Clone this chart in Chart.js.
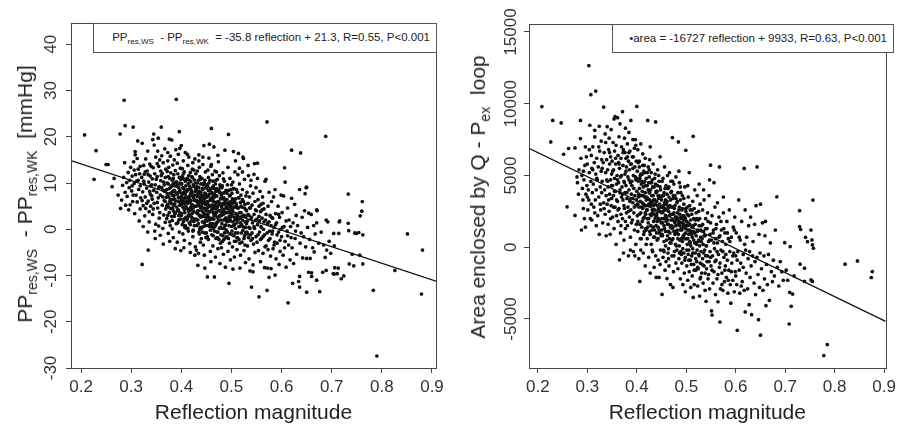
<!DOCTYPE html>
<html><head><meta charset="utf-8">
<script src="https://cdn.jsdelivr.net/npm/chart.js@4.4.1/dist/chart.umd.min.js"></script>
<style>
body{margin:0;background:#fff;}
#wrap{position:relative;width:900px;height:427px;font-family:"Liberation Sans",Arial,sans-serif;color:#222;overflow:hidden;}
canvas{position:absolute;top:0;}
.eq{position:absolute;border:1px solid #555;background:#fff;font-size:11.5px;text-align:right;box-sizing:border-box;white-space:nowrap;line-height:27px;padding-right:6px;}
.eq sub{font-size:8px;vertical-align:-3px;line-height:0;}
.ytitle{position:absolute;font-size:21px;white-space:nowrap;transform:translate(-50%,-50%) rotate(-90deg);}
.ytitle sub{font-size:14px;vertical-align:-5px;line-height:0;}
</style></head>
<body><div id="wrap">
<canvas id="c1" width="450" height="427" style="left:0"></canvas>
<canvas id="c2" width="450" height="427" style="left:450px"></canvas>
<div class="ytitle" style="left:25px;top:194px">PP<sub>res,WS</sub>&nbsp; - PP<sub>res,WK</sub>&nbsp; [mmHg]</div>
<div class="ytitle" style="left:478px;top:197px">Area enclosed by Q - P<sub>ex</sub>&nbsp; loop</div>
<div class="eq" style="left:93px;top:23px;width:344px;height:30px">PP<sub>res,WS</sub>&nbsp; - PP<sub>res,WK</sub>&nbsp; = -35.8 reflection + 21.3, R=0.55, P&lt;0.001</div>
<div class="eq" style="left:612px;top:24px;width:282px;height:29px">&#8226;area = -16727 reflection + 9933, R=0.63, P&lt;0.001</div>
</div>
<script>
// ---- data (reflection magnitude, value) ----
const ppPoints = [
[0.207,20.4],[0.226,10.8],[0.230,17.0],[0.250,14.0],[0.254,14.0],[0.262,9.2],[0.266,11.0],[0.274,7.4],[0.278,20.6],[0.279,4.5],
[0.281,6.3],[0.283,9.5],[0.286,27.9],[0.287,14.4],[0.288,22.4],[0.289,5.2],[0.285,11.2],[0.288,8.0],
[0.291,10.1],[0.292,7.1],[0.294,12.3],[0.295,4.2],[0.296,9.0],[0.298,5.3],[0.299,13.4],[0.297,10.6],
[0.301,8.3],[0.302,11.5],[0.303,6.0],[0.304,22.1],[0.305,14.6],[0.306,9.9],[0.307,3.4],[0.308,16.8],[0.308,16.1],[0.309,11.8],[0.304,7.4],
[0.311,10.4],[0.312,5.9],[0.313,19.1],[0.314,13.0],[0.315,8.6],[0.316,1.8],[0.317,12.0],[0.318,9.4],[0.319,6.8],[0.312,15.3],[0.318,4.4],
[0.321,11.2],[0.322,-7.6],[0.322,18.6],[0.323,8.1],[0.324,5.1],[0.325,13.8],[0.326,9.8],[0.327,2.9],[0.328,7.0],[0.329,15.2],[0.326,11.9],[0.324,0.6],[0.329,4.5],
[0.331,8.9],[0.332,12.6],[0.333,-0.6],[0.334,-4.5],[0.334,6.1],[0.335,10.2],[0.336,3.8],[0.337,14.1],[0.338,7.6],[0.339,9.4],[0.333,16.9],[0.336,1.6],[0.338,11.5],[0.339,5.0],
[0.341,7.2],[0.342,10.9],[0.343,19.4],[0.343,3.2],[0.344,13.3],[0.345,20.6],[0.345,8.4],[0.346,18.2],[0.346,5.6],[0.347,12.0],[0.348,-2.0],[0.348,9.6],[0.349,1.1],[0.349,15.6],[0.342,6.5],[0.347,-0.4],
[0.351,8.0],[0.352,11.4],[0.353,4.6],[0.354,19.7],[0.354,6.8],[0.355,13.6],[0.356,9.2],[0.356,2.4],[0.357,15.0],[0.358,7.4],[0.358,-1.3],[0.359,10.5],[0.352,5.8],[0.357,3.6],[0.359,12.6],[0.353,16.9],[0.355,0.7],
[0.360,22.1],[0.361,9.0],[0.362,5.2],[0.362,12.1],[0.363,7.0],[0.364,-3.2],[0.364,14.4],[0.365,3.1],[0.365,10.2],[0.366,6.2],[0.367,8.2],[0.367,17.4],[0.368,1.5],[0.368,11.2],[0.369,4.4],[0.369,13.0],[0.361,15.9],[0.363,0.2],[0.366,9.6],[0.370,6.9],
[0.371,8.6],[0.371,2.3],[0.372,12.5],[0.373,5.4],[0.373,14.8],[0.374,9.8],[0.374,-0.9],[0.375,7.0],[0.376,19.5],[0.376,3.6],[0.377,11.0],[0.377,6.0],[0.378,15.8],[0.378,0.8],[0.379,9.1],[0.379,4.5],[0.372,10.0],[0.375,13.4],[0.377,-2.6],[0.379,7.8],[0.373,16.6],
[0.381,19.3],[0.381,6.4],[0.382,10.6],[0.382,1.9],[0.383,8.2],[0.383,13.9],[0.384,4.0],[0.384,-1.8],[0.385,11.8],[0.385,7.2],[0.386,15.0],[0.386,2.8],[0.387,9.4],[0.387,5.5],[0.388,12.7],[0.388,-4.2],[0.389,8.0],[0.389,17.2],[0.390,28.1],[0.382,0.1],[0.384,9.9],[0.386,6.6],[0.388,3.5],
[0.391,10.2],[0.391,4.8],[0.392,14.3],[0.392,7.6],[0.393,1.4],[0.393,12.0],[0.394,6.0],[0.394,16.2],[0.395,9.0],[0.395,3.0],[0.396,21.1],[0.396,11.2],[0.396,-0.6],[0.397,5.2],[0.397,8.4],[0.398,13.2],[0.398,2.2],[0.399,6.8],[0.399,10.8],[0.392,-2.8],[0.394,4.2],[0.397,17.5],[0.399,-4.6],[0.393,9.6],
[0.400,18.1],[0.401,7.3],[0.401,3.4],[0.402,11.4],[0.402,5.5],[0.403,-1.0],[0.403,9.0],[0.404,14.8],[0.404,1.6],[0.405,-4.0],[0.405,6.4],[0.406,12.4],[0.406,4.2],[0.407,8.2],[0.407,0.4],[0.408,10.4],[0.408,16.6],[0.409,5.0],[0.409,2.6],[0.400,9.8],[0.402,13.1],[0.404,7.8],[0.406,-2.4],[0.408,6.9],[0.405,10.9],
[0.411,6.0],[0.411,10.8],[0.412,2.3],[0.412,8.6],[0.413,13.8],[0.413,4.4],[0.414,-0.4],[0.414,7.0],[0.415,11.6],[0.415,15.6],[0.416,3.2],[0.416,9.4],[0.417,5.8],[0.417,-3.1],[0.418,12.3],[0.418,1.0],[0.419,7.8],[0.419,4.8],[0.410,0.2],[0.412,16.2],[0.414,9.9],[0.416,6.5],[0.418,-5.0],[0.419,10.3],[0.415,3.9],
[0.421,8.0],[0.421,2.6],[0.422,11.2],[0.422,5.2],[0.423,14.4],[0.423,-1.6],[0.424,6.8],[0.424,9.6],[0.425,3.8],[0.425,12.8],[0.426,0.8],[0.426,7.4],[0.427,15.2],[0.427,5.0],[0.428,10.0],[0.428,-3.8],[0.429,2.0],[0.429,8.8],[0.420,4.2],[0.422,13.0],[0.424,-0.2],[0.426,10.7],[0.428,6.2],[0.429,12.0],[0.425,1.7],[0.427,-5.6],
[0.430,-4.5],[0.431,6.2],[0.431,9.2],[0.432,3.4],[0.432,12.6],[0.433,-7.8],[0.433,7.6],[0.434,1.2],[0.434,10.6],[0.435,5.2],[0.435,14.8],[0.436,-1.0],[0.436,8.2],[0.437,3.0],[0.437,11.4],[0.438,6.6],[0.438,-2.8],[0.439,4.6],[0.439,9.8],[0.430,2.2],[0.432,7.1],[0.434,-5.2],[0.436,13.4],[0.438,0.4],[0.439,6.0],[0.433,4.0],[0.435,16.1],
[0.440,7.4],[0.441,2.8],[0.441,11.0],[0.442,5.6],[0.442,-0.6],[0.443,8.6],[0.443,14.0],[0.444,3.6],[0.444,-3.4],[0.445,18.1],[0.445,6.4],[0.446,10.0],[0.446,1.4],[0.447,-8.4],[0.447,7.8],[0.448,4.4],[0.448,12.4],[0.449,-1.8],[0.449,9.0],[0.440,0.2],[0.442,9.9],[0.444,6.2],[0.446,-5.6],[0.448,2.0],[0.449,5.3],[0.443,15.6],[0.445,3.0],
[0.450,5.8],[0.451,9.6],[0.451,1.8],[0.452,-10.3],[0.452,7.0],[0.453,12.8],[0.453,3.2],[0.454,-2.2],[0.454,8.4],[0.455,5.0],[0.455,15.4],[0.456,18.4],[0.456,0.6],[0.457,10.6],[0.457,6.2],[0.458,-4.8],[0.458,3.8],[0.459,8.8],[0.459,13.6],[0.450,-0.8],[0.452,4.6],[0.454,11.2],[0.456,7.6],[0.458,1.2],[0.459,-7.0],[0.453,9.2],[0.455,2.6],
[0.460,21.8],[0.460,4.2],[0.461,8.0],[0.461,-1.2],[0.462,11.8],[0.462,2.4],[0.463,6.4],[0.463,-3.6],[0.464,9.4],[0.464,0.2],[0.465,17.8],[0.465,5.0],[0.466,-10.3],[0.466,7.6],[0.467,12.6],[0.467,3.0],[0.468,-6.0],[0.468,9.8],[0.469,1.0],[0.469,5.8],[0.460,14.0],[0.462,6.9],[0.464,3.6],[0.466,-0.4],[0.468,4.4],[0.469,8.2],[0.463,10.4],
[0.470,3.6],[0.471,7.2],[0.471,-0.6],[0.472,10.8],[0.472,4.8],[0.473,-4.2],[0.473,1.6],[0.474,8.6],[0.474,14.6],[0.475,6.0],[0.475,-2.2],[0.476,2.8],[0.476,11.6],[0.477,-7.4],[0.477,5.4],[0.478,9.2],[0.478,0.4],[0.479,3.8],[0.479,7.8],[0.470,12.4],[0.472,-1.8],[0.474,5.7],[0.476,8.0],[0.478,-3.0],[0.479,2.0],[0.473,16.0],
[0.480,5.0],[0.481,1.2],[0.481,9.0],[0.482,-2.6],[0.482,6.6],[0.483,12.2],[0.483,3.2],[0.484,-5.4],[0.484,7.8],[0.485,0.2],[0.485,4.2],[0.486,10.4],[0.486,-0.8],[0.487,17.1],[0.487,6.2],[0.488,2.4],[0.488,-8.2],[0.489,8.4],[0.489,4.6],[0.480,-4.0],[0.482,3.7],[0.484,10.9],[0.486,5.4],[0.488,0.9],[0.483,-1.4],
[0.490,2.4],[0.491,6.4],[0.491,-1.6],[0.492,9.6],[0.492,3.6],[0.493,-4.8],[0.493,13.4],[0.494,20.5],[0.494,5.2],[0.495,-11.7],[0.495,0.8],[0.496,7.2],[0.496,-3.0],[0.497,4.0],[0.497,11.0],[0.498,1.8],[0.498,-6.6],[0.499,6.0],[0.499,8.6],[0.490,-0.2],[0.492,5.6],[0.494,-2.0],[0.496,2.8],[0.498,4.8],
[0.500,3.0],[0.501,-0.4],[0.501,7.8],[0.502,4.4],[0.502,-3.8],[0.503,10.2],[0.503,1.6],[0.504,16.8],[0.504,5.8],[0.505,-1.4],[0.505,8.8],[0.506,2.6],[0.506,-6.0],[0.507,12.4],[0.507,4.8],[0.508,0.2],[0.508,6.6],[0.509,-2.6],[0.509,3.4],[0.500,9.6],[0.503,-8.6],[0.506,1.0],[0.508,14.8],
[0.510,5.2],[0.511,1.4],[0.511,-4.4],[0.512,8.0],[0.512,3.0],[0.513,-0.8],[0.513,11.8],[0.514,16.4],[0.514,4.6],[0.515,-2.2],[0.515,6.8],[0.516,0.6],[0.516,9.8],[0.517,-8.4],[0.517,2.4],[0.518,5.8],[0.518,-5.6],[0.519,3.6],[0.519,7.4],[0.512,-1.8],[0.516,13.2],
[0.520,1.0],[0.521,4.8],[0.521,-2.8],[0.522,8.6],[0.522,2.0],[0.523,-0.2],[0.523,15.6],[0.524,15.3],[0.524,6.0],[0.525,-4.6],[0.525,3.0],[0.526,10.8],[0.526,-1.4],[0.527,5.4],[0.528,0.4],[0.528,-7.2],[0.529,7.2],[0.529,2.8],[0.522,12.4],[0.527,-3.4],
[0.530,4.0],[0.531,-0.6],[0.531,8.0],[0.532,1.8],[0.532,-3.6],[0.533,5.6],[0.534,11.6],[0.534,-1.8],[0.535,3.0],[0.535,-6.4],[0.536,7.0],[0.537,0.2],[0.537,-9.0],[0.538,4.6],[0.538,9.4],[0.539,-2.4],[0.539,2.2],[0.533,13.8],
[0.539,10.6],[0.540,-12.5],[0.541,-0.8],[0.541,5.2],[0.542,1.4],[0.543,-7.7],[0.543,-9.2],[0.543,7.8],[0.544,-3.2],[0.545,11.9],[0.545,3.2],[0.546,0.2],[0.547,-5.0],[0.547,6.0],[0.548,2.0],[0.549,-1.6],[0.549,9.0],[0.546,14.2],
[0.550,4.0],[0.551,-2.8],[0.552,14.3],[0.552,11.0],[0.552,1.0],[0.553,6.4],[0.554,-4.6],[0.555,-14.6],[0.555,2.8],[0.556,-0.6],[0.557,8.2],[0.558,-7.0],[0.558,3.8],[0.559,0.6],[0.559,5.4],
[0.560,-2.0],[0.561,2.4],[0.562,7.0],[0.563,-5.2],[0.564,0.0],[0.565,4.4],[0.566,-8.3],[0.566,-1.2],[0.567,10.4],[0.568,2.0],[0.569,10.8],[0.569,-3.6],[0.563,5.6],
[0.571,23.2],[0.571,-13.2],[0.572,-8.4],[0.572,1.2],[0.573,5.0],[0.574,-2.4],[0.575,8.0],[0.576,-0.4],[0.577,3.0],[0.578,-5.8],[0.579,-8.5],[0.579,0.8],[0.575,-10.4],
[0.580,6.0],[0.581,-1.0],[0.582,2.4],[0.583,-4.2],[0.584,7.0],[0.585,0.4],[0.586,-2.8],[0.587,8.6],[0.587,-9.9],[0.588,3.4],[0.589,-6.4],
[0.590,1.4],[0.591,-3.0],[0.593,5.0],[0.594,-0.6],[0.595,-7.6],[0.596,2.6],[0.597,-4.8],[0.598,0.0],[0.599,7.4],
[0.600,-1.6],[0.601,3.6],[0.603,-5.6],[0.604,7.2],[0.605,0.6],[0.606,13.3],[0.607,10.2],[0.607,-2.6],[0.609,-8.2],[0.609,1.8],
[0.611,-0.4],[0.612,4.6],[0.613,-15.9],[0.614,-3.4],[0.615,2.0],[0.617,-6.6],[0.618,0.6],[0.619,-1.8],[0.620,17.1],[0.620,6.7],
[0.621,-4.0],[0.622,-11.7],[0.623,1.4],[0.624,-7.4],[0.626,5.4],[0.627,-2.0],[0.628,-0.4],[0.629,3.0],
[0.630,-5.4],[0.632,0.8],[0.634,-11.3],[0.636,8.6],[0.636,-10.2],[0.636,-12.5],[0.637,-3.0],[0.638,16.5],[0.639,-0.8],
[0.641,2.6],[0.642,-6.2],[0.644,-1.6],[0.646,4.0],[0.647,7.7],[0.648,-3.8],[0.649,9.0],[0.650,-13.6],[0.650,9.1],[0.650,-6.3],
[0.652,0.4],[0.654,3.5],[0.654,-9.3],[0.656,-2.2],[0.657,-6.3],[0.659,3.2],[0.660,-10.2],[0.660,-9.4],
[0.662,-4.0],[0.664,0.8],[0.665,-4.9],[0.667,-1.0],[0.670,4.2],[0.670,-11.0],[0.670,1.4],[0.671,4.0],
[0.674,-3.0],[0.676,-13.5],[0.679,-0.6],[0.682,-9.3],[0.684,-3.4],[0.687,-6.1],[0.688,20.1],[0.689,2.0],[0.689,-8.9],[0.690,-4.5],[0.692,1.6],[0.695,-2.6],[0.698,-5.2],
[0.703,-9.6],[0.704,-0.9],[0.705,-3.6],[0.706,-8.3],[0.705,-9.7],[0.711,-9.6],[0.713,-8.4],[0.714,-0.9],[0.715,1.6],[0.716,1.8],[0.719,-10.7],[0.724,-10.1],[0.733,7.6],[0.733,1.3],[0.734,-0.3],[0.735,-7.5],[0.741,-5.4],[0.744,-7.9],[0.746,-0.8],[0.749,-0.9],[0.754,-0.7],[0.756,-5.6],[0.757,2.9],[0.760,3.9],[0.761,6.0],[0.762,-1.2],[0.762,-7.5],[0.783,-13.2],[0.790,-27.4],[0.826,-8.9],[0.851,-1.0],[0.879,-14.0],[0.881,-4.5]
];
// densely packed core of the same cloud
const ppPointsCore = [
[0.302,9.4],[0.306,12.8],[0.310,7.4],[0.314,10.6],[0.318,13.6],[0.322,6.2],[0.325,10.4],[0.328,12.4],[0.331,5.6],[0.334,11.8],[0.337,8.2],[0.340,13.6],[0.341,9.6],[0.344,4.4],[0.350,10.8],[0.352,14.2],[0.355,9.0],[0.360,11.6],[0.364,8.4],[0.368,6.0],
[0.371,5.0],[0.372,7.6],[0.373,3.0],[0.374,11.4],[0.375,4.8],[0.376,8.8],[0.377,1.6],[0.378,6.4],[0.379,12.2],[0.380,5.6],[0.380,9.4],[0.381,2.8],[0.382,7.4],[0.383,4.6],[0.384,11.0],[0.385,5.2],[0.386,8.4],[0.387,3.4],[0.388,6.2],[0.389,10.2],[0.390,1.2],[0.391,7.8],[0.392,4.0],[0.393,9.2],[0.394,6.8],[0.395,2.0],[0.396,8.0],[0.397,3.6],[0.398,10.0],[0.399,5.6],
[0.400,6.2],[0.400,3.0],[0.401,9.8],[0.402,1.0],[0.402,7.8],[0.403,4.8],[0.404,12.0],[0.404,6.0],[0.405,2.2],[0.405,8.8],[0.406,5.6],[0.407,10.8],[0.407,3.6],[0.408,0.8],[0.408,7.6],[0.409,9.4],[0.410,4.6],[0.410,6.8],[0.411,2.0],[0.411,8.2],[0.412,11.0],[0.413,5.6],[0.413,0.2],[0.414,3.0],[0.414,8.6],[0.415,6.0],[0.416,1.4],[0.416,10.6],[0.417,4.2],[0.417,7.2],[0.418,2.8],[0.418,9.0],[0.419,6.2],[0.420,1.8],[0.420,8.4],[0.421,5.4],[0.421,11.4],[0.422,3.4],[0.423,7.2],[0.423,-0.4],[0.424,4.6],[0.425,9.2],[0.426,2.2],[0.427,6.4],[0.428,8.2],
[0.430,5.0],[0.430,8.4],[0.431,0.8],[0.431,3.6],[0.432,10.0],[0.433,5.8],[0.433,2.0],[0.434,7.8],[0.434,4.0],[0.435,-0.6],[0.435,9.0],[0.436,3.0],[0.436,6.0],[0.437,0.0],[0.437,7.0],[0.438,4.8],[0.438,10.8],[0.439,2.6],[0.439,8.0],[0.440,5.0],[0.440,-2.0],[0.441,7.0],[0.441,4.0],[0.442,1.6],[0.442,8.8],[0.443,5.8],[0.444,0.6],[0.444,9.6],[0.445,4.6],[0.445,7.2],[0.446,2.8],[0.446,5.6],[0.447,-0.8],[0.447,10.6],[0.448,6.8],[0.448,3.2],[0.449,0.8],[0.449,7.6],[0.450,4.0],[0.450,9.0],[0.451,2.6],[0.452,6.0],[0.452,-1.6],[0.453,5.4],[0.454,0.8],[0.454,7.2],[0.455,3.8],[0.455,10.0],[0.456,2.0],[0.457,5.0],[0.457,8.4],[0.458,-0.2],[0.459,6.6],[0.460,2.2],[0.461,5.2],[0.462,9.0],[0.463,1.2],[0.464,6.0],[0.465,3.2],[0.466,8.8],
[0.460,6.6],[0.461,0.6],[0.462,4.4],[0.463,7.6],[0.464,-1.4],[0.465,2.2],[0.466,5.2],[0.467,0.6],[0.467,7.0],[0.468,3.0],[0.469,10.6],[0.469,-2.0],[0.470,5.0],[0.470,1.4],[0.471,8.8],[0.472,2.6],[0.473,6.0],[0.473,-0.6],[0.474,4.0],[0.474,2.0],[0.475,8.4],[0.476,0.2],[0.476,5.4],[0.477,3.0],[0.477,9.6],[0.478,6.6],[0.479,-1.2],[0.480,3.0],[0.480,7.2],[0.481,4.6],[0.482,0.2],[0.482,9.4],[0.483,5.6],[0.484,2.0],[0.485,6.8],[0.485,-2.2],[0.486,3.4],[0.487,8.0],[0.487,0.8],[0.488,5.6],[0.489,2.0],[0.489,-1.8],[0.490,4.8],[0.491,7.8],[0.491,1.6],[0.492,-0.6],[0.493,4.4],[0.494,8.4],[0.494,1.8],[0.495,3.6],[0.496,5.8],[0.497,-1.0],[0.497,2.2],[0.498,7.4],[0.499,3.6],
[0.500,5.4],[0.500,0.6],[0.501,2.8],[0.502,6.6],[0.502,-1.2],[0.503,3.8],[0.504,0.8],[0.504,8.8],[0.505,4.8],[0.506,-2.6],[0.506,6.2],[0.507,2.0],[0.508,-0.8],[0.509,5.6],[0.510,2.4],[0.510,8.6],[0.511,-1.8],[0.512,4.6],[0.513,2.0],[0.514,6.8],[0.515,0.6],[0.516,3.6],[0.517,-3.0],[0.518,1.4],[0.519,5.0],[0.520,-0.8],[0.521,2.8],[0.522,6.4],[0.523,0.6],[0.524,3.0],[0.525,-2.0],[0.526,4.6],[0.527,1.6],[0.528,-0.8],[0.529,4.2],[0.530,1.2],[0.532,-1.0],[0.533,3.2],[0.535,0.4],[0.536,4.6],[0.538,-1.2],[0.540,2.6],[0.542,-2.0],[0.545,0.6],[0.548,4.2],
[0.551,2.2],[0.553,-1.2],[0.555,5.0],[0.556,1.8],[0.558,-2.2],[0.560,0.4],[0.561,4.2],[0.563,-1.6],[0.565,1.6],[0.567,-3.8],[0.569,3.2],[0.571,-0.8],[0.573,-4.4],[0.575,1.6],[0.577,-2.0],[0.580,2.6],[0.582,-0.4],[0.585,-3.4],[0.588,1.0],[0.591,-1.2],[0.594,3.2],[0.597,-2.4],[0.602,0.4],[0.606,-4.0],[0.612,-1.4]
];
const areaPoints = [
[0.208,9800],[0.226,7340],[0.230,8840],[0.247,8660],[0.252,6480],[0.259,2820],[0.262,6880],[0.275,2220],[0.275,6920],[0.279,4900],[0.280,4500],[0.283,5400],[0.286,8840],[0.286,7570],[0.288,1200],[0.289,5000],[0.290,4100],
[0.291,3300],[0.292,2700],[0.293,4700],[0.294,2000],[0.295,5700],[0.296,1400],[0.297,3700],[0.298,6300],[0.299,4300],
[0.300,5800],[0.301,2600],[0.302,4000],[0.303,12660],[0.303,3300],[0.304,5200],[0.305,8500],[0.306,2000],[0.307,10630],[0.307,4600],[0.308,6400],[0.309,1900],[0.309,5500],
[0.310,3800],[0.311,7000],[0.312,4400],[0.313,2800],[0.314,5900],[0.315,8150],[0.315,7690],[0.316,3300],[0.317,10880],[0.317,5100],[0.318,1500],[0.318,4000],[0.319,6200],
[0.320,4700],[0.321,2200],[0.322,5600],[0.323,3500],[0.324,8430],[0.324,900],[0.325,6700],[0.326,4200],[0.327,2600],[0.328,5300],[0.328,7400],[0.329,3800],[0.329,6100],
[0.330,4600],[0.331,1700],[0.332,5900],[0.333,9770],[0.333,3100],[0.334,6600],[0.335,4000],[0.336,2300],[0.336,7900],[0.337,5200],[0.338,800],[0.338,3600],[0.339,6100],[0.339,4700],
[0.340,8400],[0.340,3000],[0.341,5400],[0.342,1600],[0.342,4200],[0.343,6800],[0.344,2500],[0.344,7600],[0.345,3700],[0.345,5800],[0.346,900],[0.347,4700],[0.347,6300],[0.348,2900],[0.348,8200],[0.349,5100],[0.349,3400],
[0.350,6000],[0.351,2100],[0.351,4300],[0.352,7300],[0.353,3600],[0.353,5400],[0.354,8940],[0.354,1300],[0.355,4800],[0.355,6700],[0.356,2800],[0.357,5800],[0.357,3900],[0.358,7100],[0.358,200],[0.359,4400],[0.359,2200],[0.356,9100],
[0.360,5000],[0.361,9030],[0.361,3200],[0.362,6400],[0.362,1800],[0.363,4500],[0.364,7700],[0.364,2700],[0.365,-880],[0.365,5500],[0.366,3800],[0.366,8600],[0.367,1000],[0.367,4900],[0.368,6200],[0.368,2300],[0.369,3500],[0.369,7000],[0.363,5900],
[0.370,4200],[0.371,9450],[0.371,2000],[0.372,5700],[0.372,3300],[0.373,6800],[0.374,500],[0.374,4600],[0.375,7600],[0.375,2700],[0.376,5100],[0.376,3800],[0.377,8300],[0.377,1300],[0.378,6200],[0.378,4300],[0.379,2400],[0.379,5600],[0.373,-400],[0.376,6600],
[0.380,3400],[0.381,7200],[0.381,1500],[0.382,4900],[0.382,2800],[0.383,6000],[0.383,-600],[0.384,4000],[0.384,8000],[0.385,2100],[0.385,5400],[0.386,3300],[0.386,6700],[0.387,700],[0.387,4500],[0.388,8840],[0.388,2600],[0.389,5800],[0.389,3700],[0.384,6600],[0.387,-200],
[0.390,4300],[0.391,1900],[0.391,6300],[0.392,3100],[0.392,7500],[0.393,5000],[0.393,-300],[0.394,2400],[0.394,4100],[0.395,6900],[0.395,1200],[0.396,3600],[0.396,5600],[0.397,7500],[0.397,2900],[0.398,4700],[0.398,200],[0.399,3300],[0.399,6000],[0.392,5500],[0.396,-600],[0.398,7100],
[0.400,9815],[0.400,3900],[0.401,2200],[0.401,5300],[0.402,6800],[0.402,1100],[0.403,3500],[0.403,4600],[0.404,-800],[0.404,2800],[0.405,6000],[0.405,4100],[0.406,-2380],[0.406,1600],[0.407,5000],[0.407,3200],[0.408,7200],[0.408,2400],[0.409,4400],[0.409,600],[0.402,3000],[0.405,5600],[0.408,-200],
[0.410,3600],[0.411,1800],[0.411,5100],[0.412,2700],[0.412,6500],[0.413,-400],[0.413,4200],[0.414,3000],[0.414,900],[0.415,5700],[0.415,2100],[0.416,4600],[0.416,3500],[0.417,-1300],[0.417,6200],[0.418,1300],[0.418,2900],[0.419,4800],[0.419,200],[0.411,3900],[0.414,5300],[0.417,2400],[0.419,3300],
[0.420,2600],[0.421,4300],[0.421,600],[0.422,8840],[0.422,3400],[0.423,5600],[0.423,1700],[0.424,2900],[0.424,-700],[0.425,4900],[0.425,3800],[0.426,1100],[0.426,6100],[0.427,2300],[0.427,-1800],[0.428,4000],[0.428,3100],[0.429,200],[0.429,5200],[0.421,2000],[0.424,4500],[0.426,3300],[0.428,1500],[0.427,7000],
[0.430,3000],[0.431,1200],[0.431,4700],[0.432,2400],[0.432,-300],[0.433,3600],[0.433,5800],[0.434,1800],[0.434,2900],[0.435,-1400],[0.435,4200],[0.436,700],[0.436,3300],[0.437,5100],[0.437,2000],[0.438,8730],[0.438,-600],[0.439,3800],[0.439,1500],[0.430,4500],[0.432,3200],[0.434,700],[0.436,2600],[0.438,4400],[0.439,-2100],
[0.440,2200],[0.441,3900],[0.441,500],[0.442,2900],[0.442,5400],[0.443,1400],[0.443,-900],[0.444,3400],[0.444,2000],[0.445,4600],[0.445,-2100],[0.446,1000],[0.446,3000],[0.447,2500],[0.447,6300],[0.448,-200],[0.448,4000],[0.449,1700],[0.449,2800],[0.441,1800],[0.443,3600],[0.445,1200],[0.447,-1200],[0.449,3500],[0.444,5000],
[0.450,2400],[0.451,-3290],[0.451,900],[0.452,3600],[0.452,1700],[0.453,4800],[0.453,-700],[0.454,2900],[0.454,2000],[0.455,400],[0.455,3800],[0.456,1300],[0.456,5600],[0.457,-1600],[0.457,2600],[0.458,3300],[0.458,100],[0.459,1800],[0.459,4300],[0.450,1200],[0.452,2800],[0.454,-200],[0.456,3100],[0.458,2200],[0.459,-1000],
[0.460,2000],[0.461,-2180],[0.461,3200],[0.462,800],[0.462,1600],[0.463,4100],[0.463,-400],[0.464,2500],[0.464,1100],[0.465,3500],[0.465,-1300],[0.466,2200],[0.466,5200],[0.467,300],[0.467,2900],[0.468,1400],[0.468,-2600],[0.469,3800],[0.469,1900],[0.460,3000],[0.462,2600],[0.464,-800],[0.466,600],[0.468,2300],[0.469,4600],
[0.470,1500],[0.471,2800],[0.471,-600],[0.472,7640],[0.472,1900],[0.473,3400],[0.473,600],[0.474,2300],[0.474,-1700],[0.475,4400],[0.475,1100],[0.476,2700],[0.476,-300],[0.477,1700],[0.477,3600],[0.478,200],[0.478,2100],[0.479,-1100],[0.479,4900],[0.471,1300],[0.473,-2800],[0.475,2400],[0.477,900],[0.479,1500],
[0.480,1900],[0.481,-200],[0.481,3100],[0.482,1200],[0.482,2400],[0.483,-1500],[0.483,3800],[0.484,7340],[0.484,900],[0.485,1800],[0.485,-800],[0.486,2800],[0.486,4500],[0.487,500],[0.487,1500],[0.488,-2200],[0.488,3300],[0.489,2100],[0.489,-300],[0.481,1000],[0.483,2000],[0.486,100],[0.488,1200],[0.485,5300],
[0.490,1300],[0.491,2600],[0.491,-1100],[0.492,400],[0.492,3600],[0.493,1700],[0.493,-2600],[0.494,2200],[0.494,800],[0.495,-400],[0.495,3000],[0.496,1400],[0.496,-1800],[0.497,4200],[0.497,600],[0.498,2000],[0.498,-3100],[0.499,6760],[0.499,1000],[0.490,-500],[0.493,700],[0.495,1900],[0.497,-900],[0.499,2700],
[0.500,600],[0.501,1800],[0.501,-1300],[0.502,2800],[0.502,200],[0.503,1200],[0.503,-2300],[0.504,3500],[0.504,-500],[0.505,900],[0.505,2200],[0.506,-1700],[0.506,5200],[0.507,400],[0.507,1600],[0.508,-900],[0.508,2600],[0.509,100],[0.509,-2800],[0.502,1500],[0.505,-200],[0.508,1000],[0.503,4300],
[0.510,1100],[0.511,-600],[0.511,2300],[0.512,-2000],[0.512,700],[0.513,3200],[0.513,-100],[0.514,7730],[0.514,-3500],[0.514,1500],[0.515,-1200],[0.515,500],[0.516,2700],[0.516,-2600],[0.517,1000],[0.517,4000],[0.518,-400],[0.518,1900],[0.519,-1600],[0.519,300],[0.512,1400],
[0.520,800],[0.521,-1000],[0.521,2000],[0.522,-200],[0.522,3600],[0.523,-2700],[0.523,1200],[0.524,400],[0.524,-1500],[0.525,2500],[0.525,-500],[0.526,1500],[0.527,-3400],[0.527,100],[0.528,3000],[0.528,-1100],[0.529,700],[0.529,-2100],[0.526,4400],
[0.530,-300],[0.531,1500],[0.531,-1800],[0.532,600],[0.533,-800],[0.533,2600],[0.534,-2500],[0.534,200],[0.535,1100],[0.536,-1300],[0.536,3300],[0.537,-200],[0.538,-3000],[0.538,800],[0.539,2000],[0.539,-600],[0.535,4000],
[0.540,-3770],[0.540,100],[0.541,-1500],[0.542,1300],[0.543,-600],[0.543,2400],[0.544,-2200],[0.545,400],[0.546,-1000],[0.546,3600],[0.547,-2900],[0.548,900],[0.548,-300],[0.549,5720],[0.549,1700],[0.547,4700],
[0.550,-1300],[0.551,-4440],[0.552,-4720],[0.551,500],[0.552,2200],[0.553,-600],[0.554,-2500],[0.555,1200],[0.556,4500],[0.556,-1700],[0.557,-100],[0.558,2800],[0.559,-3300],[0.559,600],
[0.560,-900],[0.561,1600],[0.562,-2200],[0.563,300],[0.564,-3800],[0.565,-500],[0.566,2100],[0.567,5600],[0.567,-1400],[0.568,-5210],[0.568,800],[0.569,-2900],[0.563,3100],
[0.570,-200],[0.571,1200],[0.572,-1800],[0.573,400],[0.574,-3000],[0.575,2400],[0.576,-700],[0.577,-2400],[0.578,1000],[0.579,-1300],[0.575,3500],
[0.580,200],[0.581,-2100],[0.582,1800],[0.583,-900],[0.584,-3200],[0.585,600],[0.586,-1600],[0.587,2600],[0.588,-300],[0.589,-2600],
[0.590,-3900],[0.591,700],[0.592,-1100],[0.594,-2300],[0.595,1400],[0.596,-400],[0.597,-3100],[0.598,2100],[0.599,-1700],
[0.600,-600],[0.601,1000],[0.602,-2600],[0.603,-5790],[0.604,-300],[0.606,3300],[0.607,-1600],[0.608,-3200],[0.609,500],
[0.610,-1100],[0.612,1800],[0.613,-2400],[0.615,-500],[0.617,5490],[0.617,-3000],[0.618,200],[0.619,-4510],[0.619,2600],
[0.621,-1800],[0.622,700],[0.624,-2900],[0.625,-800],[0.626,1500],[0.627,-4000],[0.628,-300],[0.629,-2100],
[0.630,2100],[0.631,-1300],[0.632,-4700],[0.634,-600],[0.635,400],[0.637,-2500],[0.638,1600],[0.639,-1000],
[0.640,-3300],[0.641,2900],[0.643,5600],[0.643,-700],[0.645,-1900],[0.646,-5050],[0.647,900],[0.648,-2800],[0.649,-400],[0.650,-6130],[0.650,3000],
[0.652,-1500],[0.654,1700],[0.655,-3000],[0.657,-600],[0.658,-2200],[0.659,800],[0.660,1800],
[0.661,-4070],[0.662,-1200],[0.664,-2600],[0.666,-500],[0.668,-3700],[0.670,300],[0.672,-1700],[0.674,-2400],[0.676,-900],[0.678,-2000],[0.680,1200],[0.683,3520],[0.684,-1400],[0.687,-2700],[0.690,-1000],[0.693,-1700],[0.696,-2300],[0.699,320],
[0.702,-1600],[0.705,-2300],[0.708,-5350],[0.709,-3150],[0.710,50],[0.712,-4120],[0.715,-3260],[0.718,-2000],[0.729,2550],[0.729,1440],[0.731,1250],[0.730,-1180],[0.739,-1460],[0.739,-2380],[0.741,690],[0.745,390],[0.752,1200],[0.754,510],[0.755,160],[0.757,-70],[0.756,3290],[0.752,-2270],[0.755,-2380],[0.778,-7550],[0.785,-6780],[0.821,-1180],[0.846,-950],[0.874,-2110],[0.876,-1690]
];
// densely packed core of the same cloud
const areaPointsCore = [
[0.282,3700],[0.287,6200],[0.292,5300],[0.296,7000],[0.300,3500],[0.304,6800],[0.308,3000],[0.311,5400],[0.315,2400],[0.319,4800],[0.323,7000],[0.326,3000],[0.330,5500],[0.334,2700],[0.337,7300],
[0.341,4600],[0.343,3300],[0.345,6600],[0.347,2000],[0.349,4300],[0.351,5300],[0.353,2800],[0.355,3900],[0.357,6200],[0.359,3300],[0.361,4700],[0.362,2600],[0.364,5800],[0.366,4000],[0.368,1500],[0.369,5000],[0.371,3700],[0.372,6600],[0.374,2900],[0.375,4500],[0.377,1800],[0.378,5300],[0.380,3800],[0.381,6300],[0.383,2500],[0.384,4700],[0.386,3200],[0.387,5800],[0.389,1700],[0.390,4600],[0.392,3400],[0.393,6300],[0.395,2800],[0.397,4900],[0.399,1600],
[0.400,4800],[0.401,3000],[0.402,1800],[0.403,5900],[0.404,3700],[0.405,2300],[0.406,4800],[0.407,600],[0.407,3600],[0.408,5100],[0.409,2800],[0.410,1400],[0.410,4600],[0.411,3100],[0.412,5700],[0.413,2000],[0.413,3600],[0.414,4500],[0.415,1100],[0.415,2900],[0.416,5200],[0.417,3800],[0.418,2300],[0.418,4300],[0.419,1200],[0.420,3500],[0.421,5200],[0.421,2600],[0.422,1400],[0.423,4000],[0.424,3000],[0.424,2000],[0.425,5400],[0.426,3800],[0.427,900],[0.427,2900],[0.428,4500],[0.429,2200],[0.430,3600],[0.431,-200],[0.431,2600],[0.432,4200],[0.433,1400],[0.434,3300],[0.435,2300],[0.436,4800],[0.436,1200],[0.437,3000],[0.438,2100],[0.439,3900],[0.440,1000],[0.440,3200],[0.441,2400],[0.442,4300],[0.443,600],[0.444,2700],[0.445,3600],[0.446,1900],[0.447,4200],[0.449,800],
[0.450,3300],[0.451,2000],[0.451,4600],[0.452,800],[0.453,2500],[0.454,3600],[0.455,1500],[0.455,-300],[0.456,2700],[0.457,4100],[0.458,1100],[0.458,3000],[0.459,2100],[0.460,500],[0.461,3700],[0.462,1900],[0.463,2800],[0.464,-100],[0.464,1600],[0.465,4200],[0.466,2800],[0.467,1000],[0.468,3300],[0.469,300],[0.470,2300],[0.470,3900],[0.471,500],[0.472,2800],[0.473,1400],[0.474,3600],[0.475,-600],[0.476,1800],[0.477,2900],[0.478,1100],[0.479,3400],[0.480,100],[0.481,2100],[0.482,3200],[0.483,600],[0.484,1600],[0.485,2600],[0.486,-400],[0.487,2300],[0.488,1700],[0.489,3800],[0.490,600],[0.490,2000],[0.491,1200],[0.492,2700],[0.493,-100],[0.494,1500],[0.495,3400],[0.496,900],[0.497,2100],[0.498,-700],[0.498,1300],[0.499,2500],[0.488,4200],[0.472,4600],[0.462,5000],
[0.500,1500],[0.501,-200],[0.502,2300],[0.503,600],[0.504,1700],[0.505,-900],[0.506,1200],[0.507,2900],[0.508,300],[0.509,1900],[0.510,-1200],[0.511,900],[0.512,2600],[0.513,-400],[0.514,1100],[0.515,2000],[0.516,-1600],[0.517,300],[0.518,1600],[0.519,-800],[0.520,2400],[0.521,200],[0.522,1100],[0.523,-1400],[0.524,1900],[0.525,500],[0.526,-600],[0.527,2000],[0.528,-2200],[0.529,1200],[0.530,400],[0.532,-1200],[0.533,1600],[0.535,-400],[0.536,800],[0.538,-1800],[0.539,1300],[0.541,100],[0.542,-1000],[0.544,1800],[0.545,-1900],[0.547,500],[0.549,-700],[0.552,-1600],[0.554,1000],
[0.556,300],[0.558,-1000],[0.560,1300],[0.562,-300],[0.564,-1900],[0.566,700],[0.568,-1100],[0.570,1800],[0.572,-2600],[0.574,-300],[0.576,1300],[0.578,-1600],[0.580,-500],[0.583,1000],[0.585,-2300],[0.588,400],[0.591,-1700],[0.594,-600],[0.597,1200],[0.600,-2000],[0.603,-900],[0.607,700],[0.611,-2700],[0.615,-1400],[0.620,-200]
];
// regression fits: [slope, intercept]
const ppFit = [-35.8, 21.3];
const areaFit = [-16727, 9933];
// tick labels
const xTickValues = [0.2, 0.3, 0.4, 0.5, 0.6, 0.7, 0.8, 0.9];
const ppTickValues = [-30, -20, -10, 0, 10, 20, 30, 40];
const areaTickValues = [-5000, 0, 5000, 10000, 15000];

const FONT = "'Liberation Sans', Arial, sans-serif";
const boxPlugin = {
  id: 'plotBox',
  afterDraw(chart) {
    const {ctx, chartArea: a} = chart;
    ctx.save();
    ctx.strokeStyle = '#444';
    ctx.lineWidth = 1;
    ctx.strokeRect(Math.round(a.left) + 0.5, Math.round(a.top) + 0.5,
      Math.round(a.right - a.left), Math.round(a.bottom - a.top));
    ctx.restore();
  }
};

function makeChart(id, pts, fit, xr, yr, yTicks, cfg) {
  const scatter = pts.map(p => ({x: p[0], y: p[1]}));
  const line = [xr[0], xr[1]].map(x => ({x: x, y: fit[0] * x + fit[1]}));
  return new Chart(document.getElementById(id), {
    type: 'scatter',
    data: {datasets: [
      {type: 'scatter', data: scatter, pointRadius: 1.85, pointBackgroundColor: '#111', pointBorderWidth: 0, order: 2},
      {type: 'line', data: line, borderColor: '#111', borderWidth: 1.3, pointRadius: 0, fill: false, order: 1}
    ]},
    options: {
      responsive: false, animation: false, devicePixelRatio: 1,
      layout: {padding: {left: 0, top: cfg.top, right: cfg.right, bottom: 0}},
      plugins: {legend: {display: false}, tooltip: {enabled: false}},
      scales: {
        x: {
          type: 'linear', min: xr[0], max: xr[1],
          afterBuildTicks: s => { s.ticks = xTickValues.map(v => ({value: v})); },
          afterFit: s => { s.height = 59; },
          grid: {display: true, drawOnChartArea: false, drawTicks: true, tickLength: 5, color: '#444'},
          border: {display: false},
          ticks: {color: '#333', font: {family: FONT, size: 17}, padding: 4, maxRotation: 0, autoSkip: false,
                  callback: v => v.toFixed(1)},
          title: {display: true, text: 'Reflection magnitude', color: '#222', font: {family: FONT, size: 21},
                  padding: {top: 0, bottom: 1}}
        },
        y: {
          type: 'linear', min: yr[0], max: yr[1],
          afterBuildTicks: s => { s.ticks = yTicks.map(v => ({value: v})); },
          afterFit: s => { s.width = cfg.yWidth; },
          grid: {display: true, drawOnChartArea: false, drawTicks: true, tickLength: 5, color: '#444'},
          border: {display: false},
          ticks: {color: '#333', font: {family: FONT, size: 17}, minRotation: 90, maxRotation: 90,
                  crossAlign: 'center', padding: cfg.yPad, autoSkip: false, callback: v => String(v)}
        }
      }
    },
    plugins: [boxPlugin]
  });
}

makeChart('c1', ppPoints.concat(ppPointsCore), ppFit, [0.18, 0.908], [-30, 44.6], ppTickValues, {top: 23, right: 14, yWidth: 71, yPad: 2});
makeChart('c2', areaPoints.concat(areaPointsCore), areaFit, [0.182, 0.903], [-8415, 15557], areaTickValues, {top: 24, right: 7, yWidth: 79, yPad: -11});
</script>
</body></html>
